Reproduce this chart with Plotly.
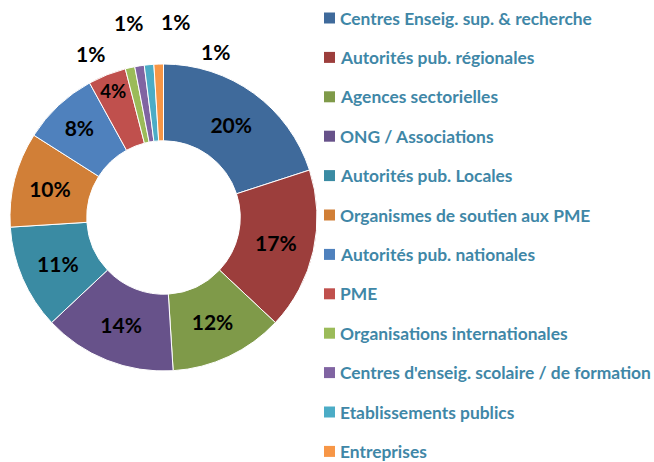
import math
import plotly.graph_objects as go

categories = [
    "Centres Enseig. sup. & recherche",
    "Autorités pub. régionales",
    "Agences sectorielles",
    "ONG / Associations",
    "Autorités pub. Locales",
    "Organismes de soutien aux PME",
    "Autorités pub. nationales",
    "PME",
    "Organisations internationales",
    "Centres d'enseig. scolaire / de formation",
    "Etablissements publics",
    "Entreprises",
]
values = [20, 17, 12, 14, 11, 10, 8, 4, 1, 1, 1, 1]
colors = ["#3F6A9B", "#9C3E3C", "#7F9A49", "#67528A", "#3A8BA3", "#D17F37",
          "#4F81BD", "#C0504D", "#9BBB59", "#8064A2", "#4BACC6", "#F79646"]

W, H = 654, 462
CX, CY, R = 163.5, 217.5, 153.5  # pie placement in pixels
small = [v < 3 for v in values]
total = sum(values)

fig = go.Figure()
fig.add_trace(go.Pie(
    labels=categories, values=values, sort=False, direction="clockwise",
    rotation=0, hole=0.5, automargin=False,
    marker=dict(colors=colors, line=dict(color="white", width=1)),
    texttemplate=["" if s else "%{percent:.0%}" for s in small],
    textposition="inside",
    insidetextorientation="horizontal",
    textfont=dict(family="Lato", size=21, color="black", weight="bold"),
    showlegend=False,
    domain=dict(x=[(CX - R) / W, (CX + R) / W], y=[1 - (CY + R) / H, 1 - (CY - R) / H]),
))

# outside labels for the tiny slices, spread apart around their angle
small_idx = [i for i, s in enumerate(small) if s]
mids = []
for i in small_idx:
    start = sum(values[:i])
    mids.append((start + values[i] / 2) / total * 360.0)
group_mid = sum(mids) / len(mids) - 360.0
step = 13.8
radii = [180, 198, 196, 174]
for k, i in enumerate(small_idx):
    ang = math.radians(group_mid + 3.8 + (k - (len(small_idx) - 1) / 2) * step)
    r = radii[k]
    px = CX + r * math.sin(ang)
    py = CY - r * math.cos(ang)
    fig.add_annotation(text=f"{round(values[i] / total * 100)}%", xref="paper", yref="paper",
                       x=px / W, y=1 - py / H, xanchor="center", yanchor="middle",
                       showarrow=False,
                       font=dict(family="Lato", size=21, color="black", weight="bold"))

legend_color = "#3F87A7"
x_sw0, x_sw1, x_txt = 324, 335, 337.5
y0, dy = 18, 39.4
for i, (cat, col) in enumerate(zip(categories, colors)):
    yc = y0 + dy * i
    fig.add_shape(type="rect", xref="paper", yref="paper",
                  x0=x_sw0 / W, x1=x_sw1 / W,
                  y0=1 - (yc + 5.5) / H, y1=1 - (yc - 5.5) / H,
                  fillcolor=col, line=dict(width=0))
    fig.add_annotation(text=cat, xref="paper", yref="paper",
                       x=x_txt / W, y=1 - yc / H, xanchor="left", yanchor="middle",
                       showarrow=False,
                       font=dict(family="Lato", size=17.4, color=legend_color, weight="bold"))

fig.update_layout(width=W, height=H, margin=dict(l=0, r=0, t=0, b=0, pad=0),
                  paper_bgcolor="white", plot_bgcolor="white")
fig.write_html("out.html", config={"displayModeBar": False},
               post_script="document.body.style.margin='0';")
